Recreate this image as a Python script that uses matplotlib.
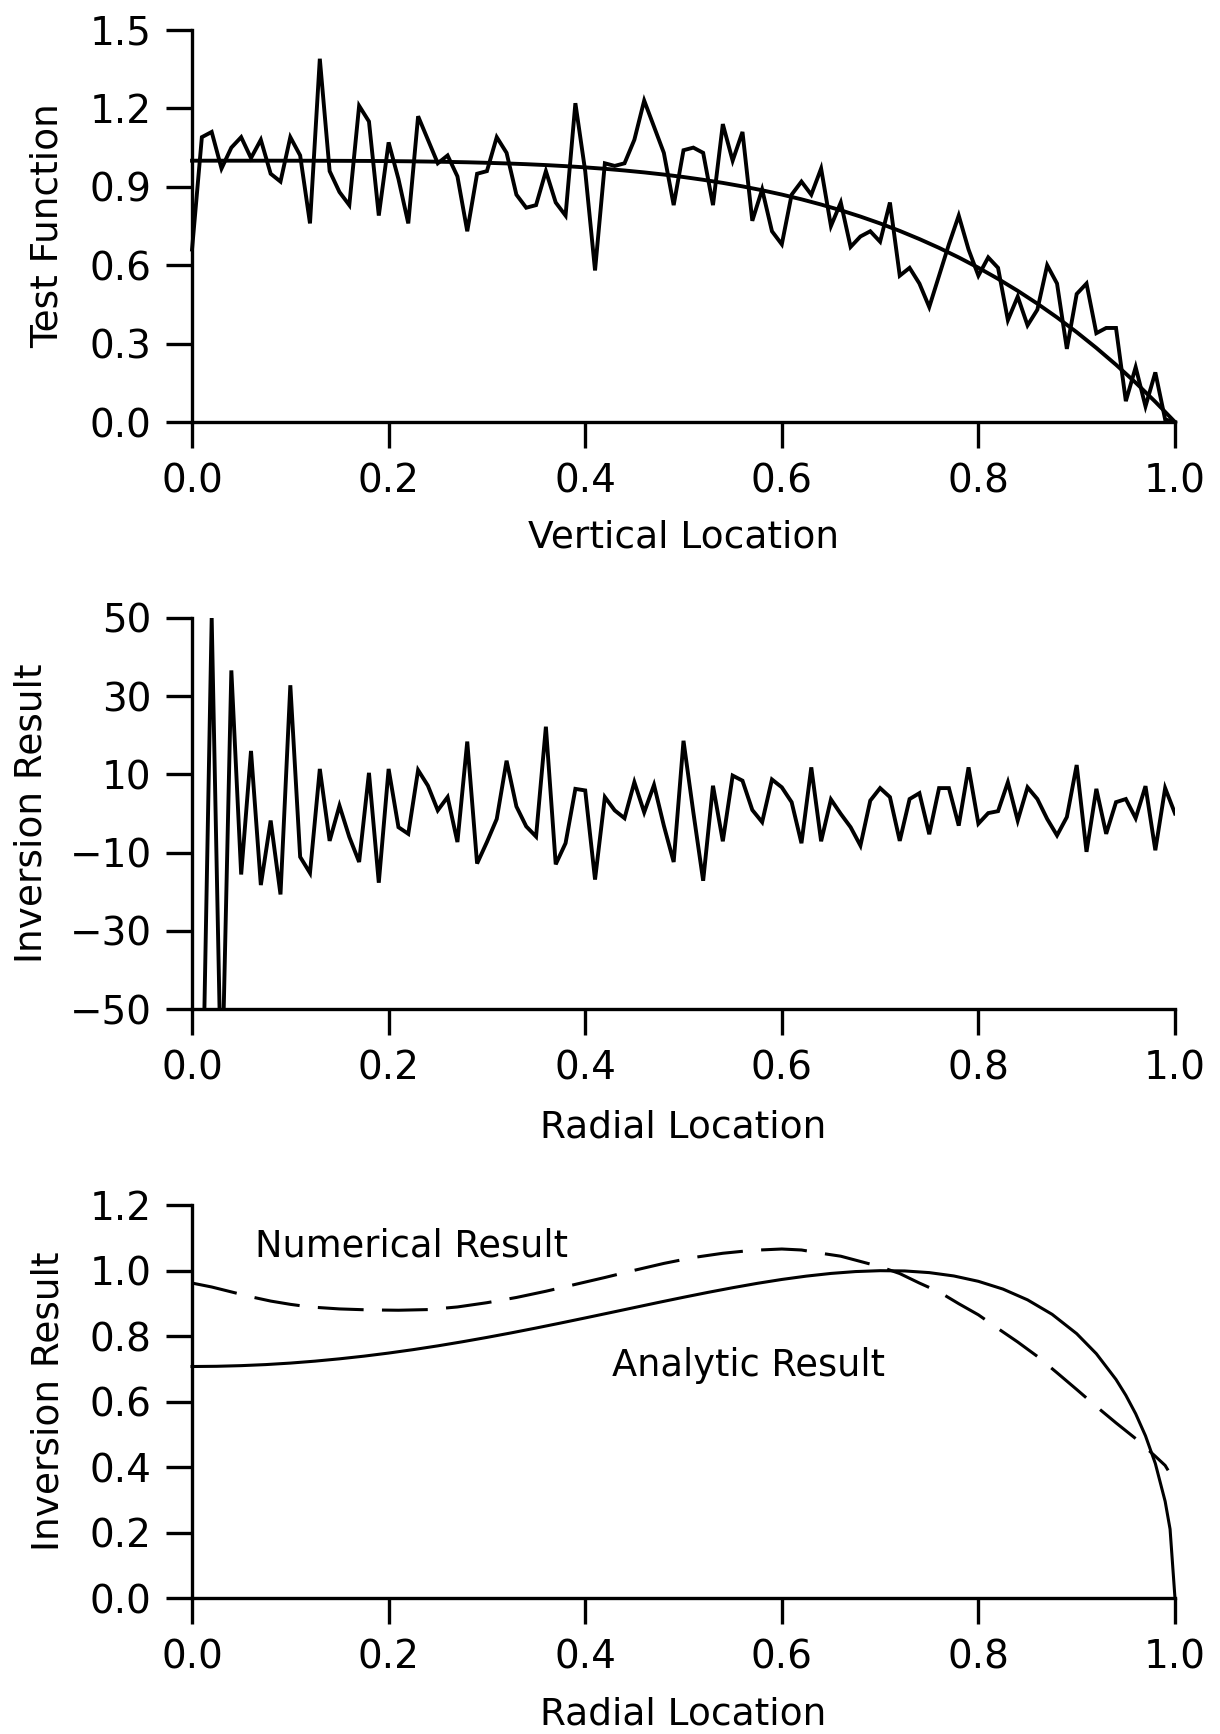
import numpy as np
import matplotlib
matplotlib.use("Agg")
import matplotlib.pyplot as plt

plt.rcParams['font.family'] = ['DejaVu Sans']

# ---------------- data ----------------
# Panel 1: noisy test function (101 samples, step 0.01) and exact curve (51 samples, step 0.02)
vertical_location = np.linspace(0.0, 1.0, 101)
test_noisy = [0.66, 1.09, 1.11, 0.97, 1.05, 1.09, 1.01, 1.08, 0.95, 0.92,
              1.09, 1.02, 0.76, 1.39, 0.96, 0.88, 0.83, 1.21, 1.15, 0.79,
              1.07, 0.93, 0.76, 1.17, 1.08, 0.99, 1.02, 0.94, 0.73, 0.95,
              0.96, 1.09, 1.03, 0.87, 0.82, 0.83, 0.96, 0.84, 0.79, 1.22,
              0.96, 0.58, 0.99, 0.98, 0.99, 1.08, 1.23, 1.13, 1.03, 0.83,
              1.04, 1.05, 1.03, 0.83, 1.14, 1.00, 1.11, 0.77, 0.89, 0.73,
              0.68, 0.87, 0.92, 0.87, 0.97, 0.75, 0.84, 0.67, 0.71, 0.73,
              0.69, 0.84, 0.56, 0.59, 0.53, 0.44, 0.56, 0.68, 0.79, 0.66,
              0.56, 0.63, 0.59, 0.39, 0.48, 0.37, 0.43, 0.60, 0.53, 0.28,
              0.49, 0.53, 0.34, 0.36, 0.36, 0.08, 0.21, 0.06, 0.19, 0.01,
              0.0]
smooth_location = np.linspace(0.0, 1.0, 51)
test_exact = [1.0, 1.0, 1.0, 1.0, 1.0, 0.9999, 0.9998, 0.9996, 0.9993, 0.9990,
              0.9984, 0.9977, 0.9967, 0.9954, 0.9939, 0.9919, 0.9895, 0.9866, 0.9832, 0.9791,
              0.9744, 0.9689, 0.9625, 0.9552, 0.9469, 0.9375, 0.9269, 0.9150, 0.9017, 0.8868,
              0.8704, 0.8522, 0.8322, 0.8102, 0.7862, 0.7599, 0.7313, 0.7001, 0.6664, 0.6298,
              0.5904, 0.5479, 0.5021, 0.4530, 0.4003, 0.3439, 0.2836, 0.2193, 0.1507, 0.0776,
              0.0]

# Panel 2: inversion of noisy data (101 samples, step 0.01); first values run off-scale
radial_location = np.linspace(0.0, 1.0, 101)
inversion_noisy = [-120, -85, 50, -75, 36.6, -15.6, 16.0, -18.3, -1.8, -20.7,
                   32.8, -11.1, -15.2, 11.4, -7.0, 2.0, -6.0, -12.4, 10.4, -17.7,
                   11.4, -3.5, -5.2, 11.1, 7.1, 0.8, 4.2, -7.3, 18.4, -12.8,
                   -7.3, -1.4, 13.5, 1.8, -3.3, -5.9, 22.2, -13.0, -7.6, 6.3,
                   5.9, -16.9, 4.2, 0.8, -1.2, 8.0, 0.3, 7.3, -3.1, -12.4,
                   18.6, 0.3, -17.2, 7.1, -7.1, 9.7, 8.4, 0.9, -2.2, 8.7,
                   6.7, 2.9, -7.6, 11.8, -7.1, 3.6, -0.1, -3.5, -8.2, 3.3,
                   6.5, 4.2, -7.0, 3.7, 5.2, -5.3, 6.5, 6.5, -3.1, 11.8,
                   -2.6, 0.1, 0.6, 8.0, -1.8, 6.7, 3.7, -1.4, -5.6, -0.9,
                   12.4, -9.8, 6.3, -5.2, 2.9, 3.7, -1.2, 7.0, -9.4, 6.5,
                   0.0]

# Panel 3: analytic and numerical inversion results
analytic_r = [0.0, 0.025, 0.05, 0.075, 0.1, 0.125, 0.15, 0.175, 0.2, 0.225,
              0.25, 0.275, 0.3, 0.325, 0.35, 0.375, 0.4, 0.425, 0.45, 0.475,
              0.5, 0.525, 0.55, 0.575, 0.6, 0.625, 0.65, 0.675, 0.7, 0.725,
              0.75, 0.775, 0.8, 0.825, 0.85, 0.875, 0.9, 0.92, 0.94, 0.95,
              0.96, 0.97, 0.98, 0.99, 0.995, 1.0]
analytic_val = [0.7071, 0.7078, 0.7098, 0.7130, 0.7176, 0.7235, 0.7306, 0.7388, 0.7482, 0.7587,
                0.7702, 0.7827, 0.7960, 0.8100, 0.8247, 0.8399, 0.8555, 0.8713, 0.8872, 0.9031,
                0.9186, 0.9336, 0.9478, 0.9611, 0.9730, 0.9832, 0.9914, 0.9971, 0.9998, 0.9990,
                0.9939, 0.9837, 0.9673, 0.9436, 0.9107, 0.8665, 0.8075, 0.7462, 0.6676, 0.6193,
                0.5629, 0.4954, 0.4110, 0.2953, 0.2105, 0.0]
numerical_r = [0.0, 0.02, 0.04, 0.06, 0.08, 0.10, 0.12, 0.15, 0.18, 0.21,
               0.24, 0.27, 0.30, 0.33, 0.36, 0.39, 0.42, 0.45, 0.48, 0.51,
               0.54, 0.57, 0.60, 0.62, 0.64, 0.66, 0.68, 0.70, 0.72, 0.74,
               0.76, 0.78, 0.80, 0.82, 0.84, 0.86, 0.88, 0.90, 0.92, 0.94,
               0.96, 0.98, 0.99, 0.993]
numerical_val = [0.962, 0.950, 0.935, 0.920, 0.907, 0.897, 0.889, 0.883, 0.880, 0.879,
                 0.881, 0.889, 0.902, 0.918, 0.937, 0.958, 0.979, 1.001, 1.022, 1.040,
                 1.053, 1.062, 1.066, 1.063, 1.053, 1.044, 1.028, 1.012, 0.991, 0.962,
                 0.935, 0.899, 0.865, 0.823, 0.782, 0.738, 0.688, 0.637, 0.585, 0.535,
                 0.487, 0.433, 0.405, 0.390]

x_ticks = [0.0, 0.2, 0.4, 0.6, 0.8, 1.0]
x_ticklabels = ["0.0", "0.2", "0.4", "0.6", "0.8", "1.0"]
top_yticks = [0.0, 0.3, 0.6, 0.9, 1.2, 1.5]
top_yticklabels = ["0.0", "0.3", "0.6", "0.9", "1.2", "1.5"]
mid_yticks = [-50, -30, -10, 10, 30, 50]
mid_yticklabels = ["\u221250", "\u221230", "\u221210", "10", "30", "50"]
bot_yticks = [0.0, 0.2, 0.4, 0.6, 0.8, 1.0, 1.2]
bot_yticklabels = ["0.0", "0.2", "0.4", "0.6", "0.8", "1.0", "1.2"]

# ---------------- figure ----------------
fig = plt.figure(figsize=(12.2, 17.34), dpi=100)
LW_AX = 2.4
TICK_FS = 28
LABEL_FS = 27

ax1 = fig.add_axes([0.1574, 0.7566, 0.8057, 0.2261])
ax2 = fig.add_axes([0.1574, 0.4181, 0.8057, 0.2255])
ax3 = fig.add_axes([0.1574, 0.0784, 0.8057, 0.2266])


def style(ax, yticks, yticklabels, ylim):
    for s in ("top", "right"):
        ax.spines[s].set_visible(False)
    for s in ("left", "bottom"):
        ax.spines[s].set_linewidth(LW_AX)
    ax.set_xlim(0, 1)
    ax.set_ylim(*ylim)
    ax.set_xticks(x_ticks)
    ax.set_xticklabels(x_ticklabels)
    ax.set_yticks(yticks)
    ax.set_yticklabels(yticklabels)
    ax.tick_params(direction="out", length=19, width=LW_AX, pad=10,
                   labelsize=TICK_FS)


# Panel 1
style(ax1, top_yticks, top_yticklabels, (0.0, 1.5))
ax1.plot(vertical_location, test_noisy, color="black", lw=2.8, clip_on=False,
         solid_joinstyle="miter")
ax1.plot(smooth_location, test_exact, color="black", lw=2.8, clip_on=False)
ax1.set_xlabel("Vertical Location", fontsize=LABEL_FS, va="center")
ax1.xaxis.set_label_coords(0.5, -0.2955)
ax1.set_ylabel("Test Function", fontsize=LABEL_FS, va="center", ha="center")
ax1.yaxis.set_label_coords(-0.1464, 0.5)

# Panel 2
style(ax2, mid_yticks, mid_yticklabels, (-50, 50))
ax2.plot(radial_location, inversion_noisy, color="black", lw=2.8,
         solid_joinstyle="miter")
ax2.set_xlabel("Radial Location", fontsize=LABEL_FS, va="center")
ax2.xaxis.set_label_coords(0.5, -0.304)
ax2.set_ylabel("Inversion Result", fontsize=LABEL_FS, va="center", ha="center")
ax2.yaxis.set_label_coords(-0.1633, 0.5)

# Panel 3
style(ax3, bot_yticks, bot_yticklabels, (0.0, 1.2))
ax3.plot(analytic_r, analytic_val, color="black", lw=2.2, clip_on=False)
ax3.plot(numerical_r, numerical_val, color="black", lw=2.2, clip_on=False,
         dashes=(15, 6))
ax3.text(0.064, 1.075, "Numerical Result", fontsize=26.5, ha="left", va="center")
ax3.text(0.427, 0.711, "Analytic Result", fontsize=26.5, ha="left", va="center")
ax3.set_xlabel("Radial Location", fontsize=LABEL_FS, va="center")
ax3.xaxis.set_label_coords(0.5, -0.296)
ax3.set_ylabel("Inversion Result", fontsize=LABEL_FS, va="center", ha="center")
ax3.yaxis.set_label_coords(-0.1464, 0.5)

fig.savefig("out.png", dpi=100)
